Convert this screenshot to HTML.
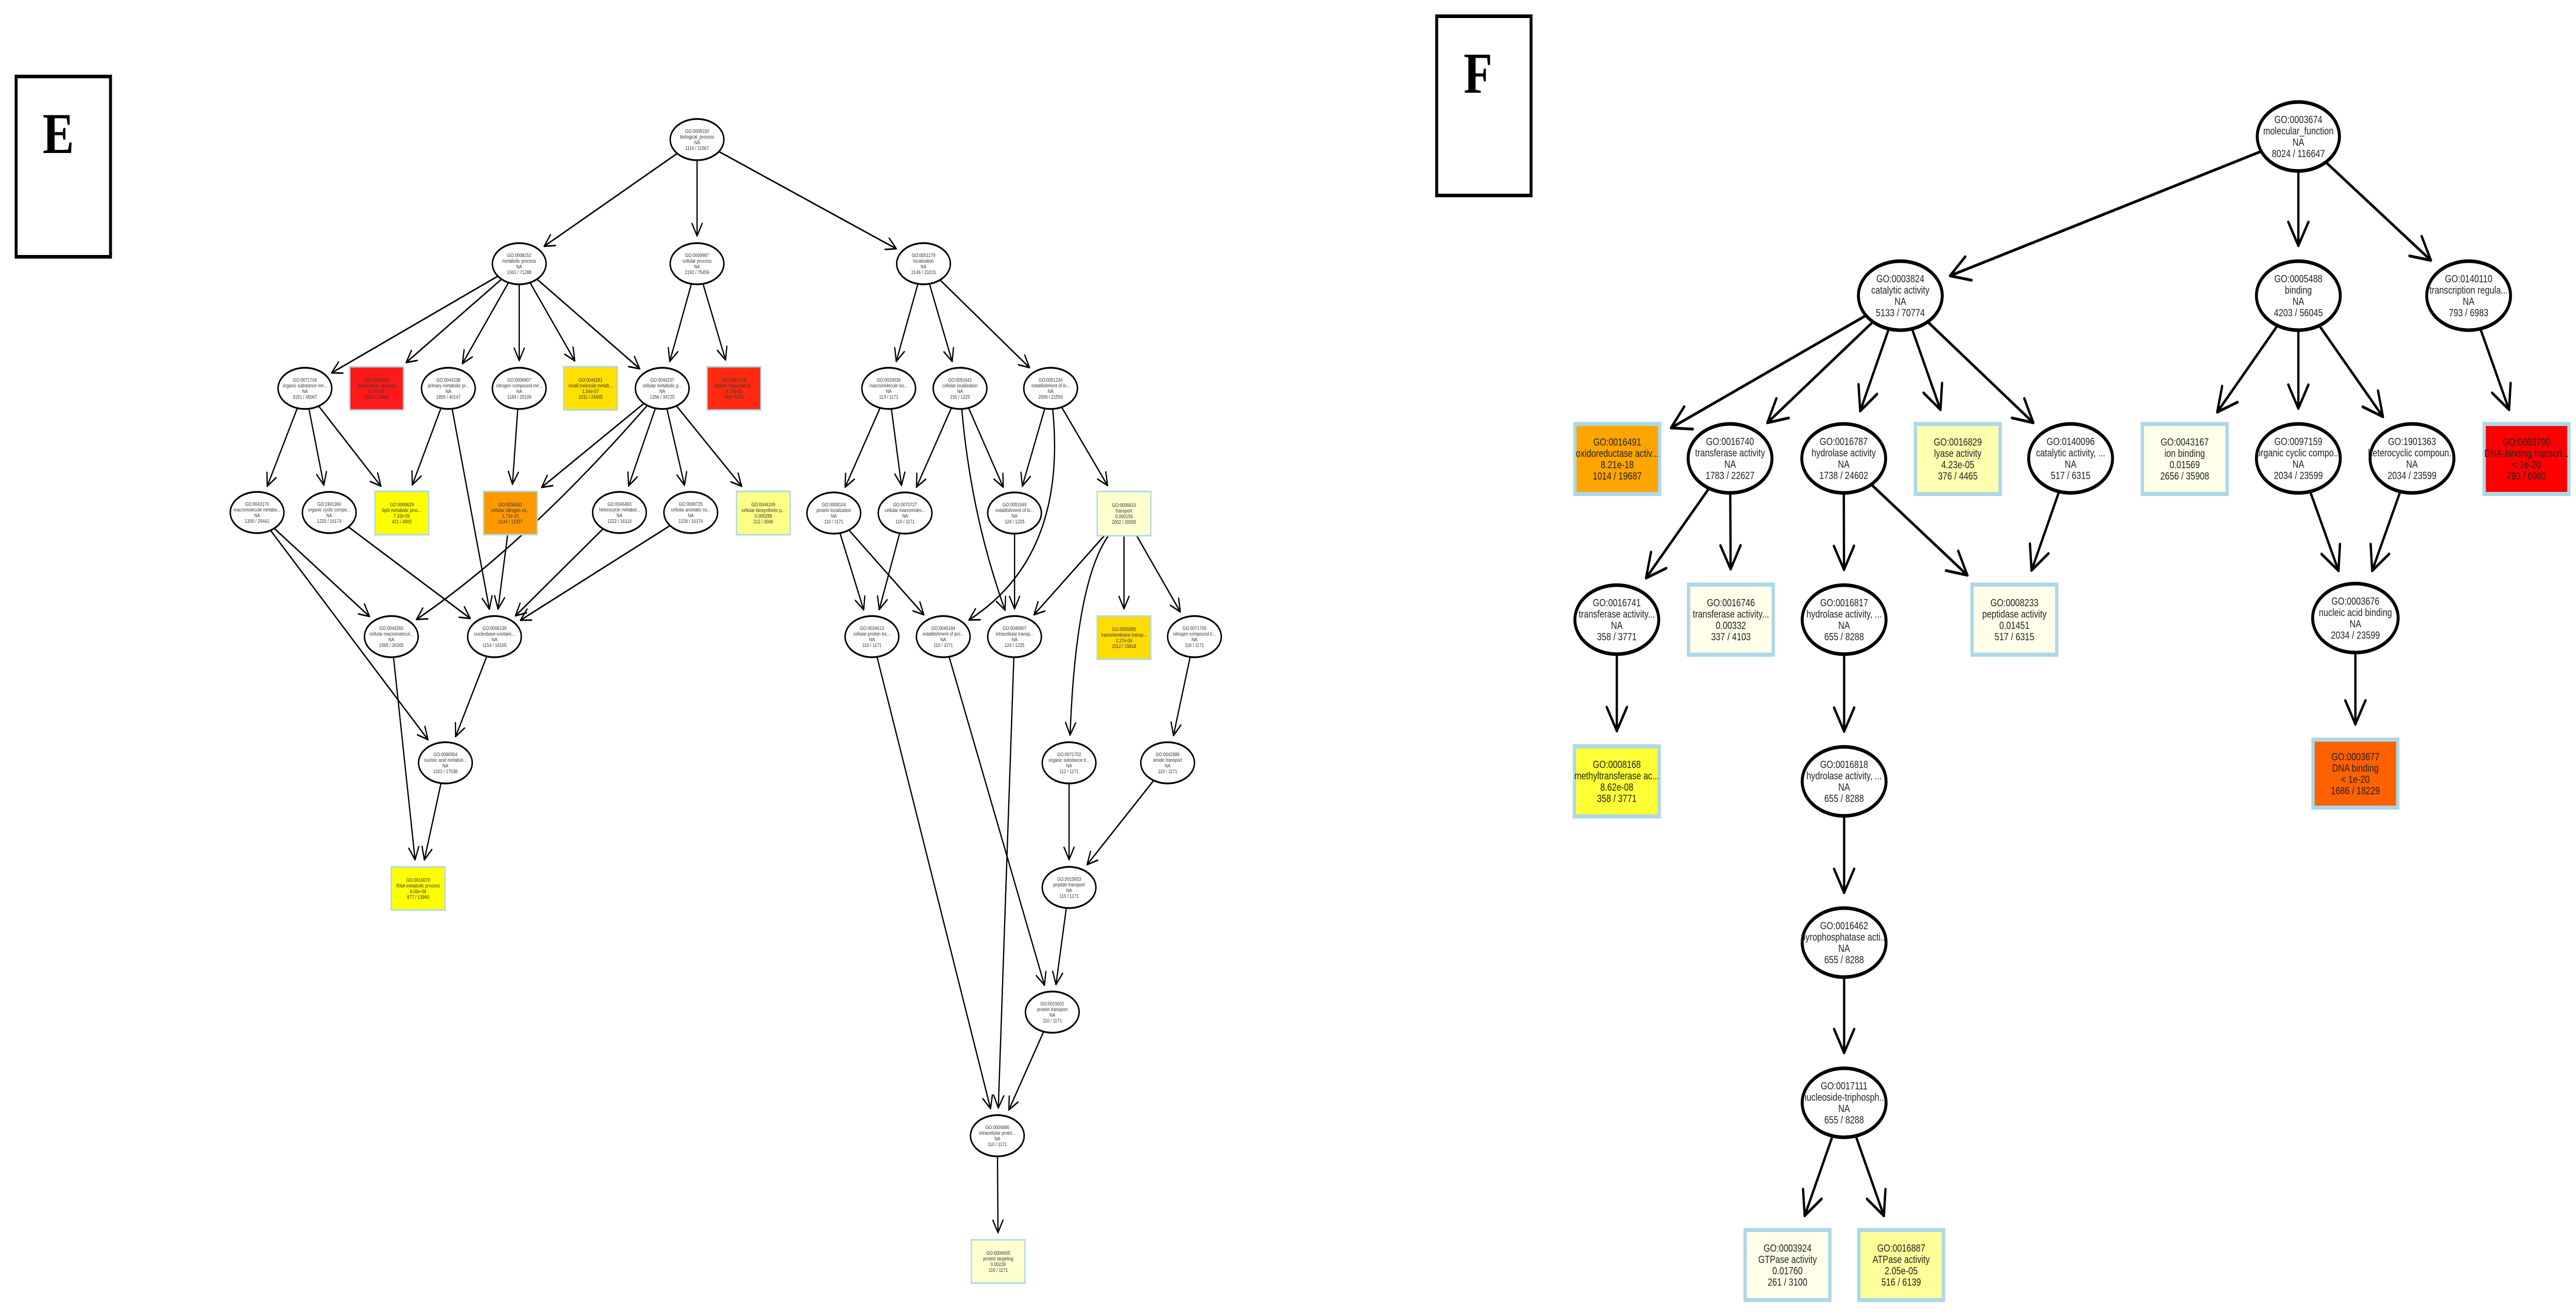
<!DOCTYPE html>
<html><head><meta charset="utf-8">
<style>
html,body{margin:0;padding:0;background:#fff;overflow:hidden;width:100vw;height:100vh;}
svg#s{display:block;width:100vw;height:100vh;}
.eF{fill:#fff;stroke:#000;stroke-width:7;}
.eE{fill:#fff;stroke:#000;stroke-width:3.5;}
.bF{stroke:#add8e6;stroke-width:8;}
.bE{stroke:#add8e6;stroke-width:3;}
.tF{font-family:"Liberation Sans Narrow","Liberation Sans",sans-serif;font-size:20px;text-anchor:middle;fill:#222;}
.tE{font-family:"Liberation Sans Narrow","Liberation Sans",sans-serif;font-size:10px;text-anchor:middle;fill:#333;}
.lab{font-family:"Liberation Serif",serif;font-weight:bold;font-size:112px;text-anchor:middle;}
</style></head>
<body>
<svg id="s" viewBox="0 0 6142 2553" preserveAspectRatio="none" xmlns="http://www.w3.org/2000/svg">
<rect x="0" y="0" width="6142" height="2553" fill="#fff"/>
<rect x="38.5" y="148.5" width="225" height="350" fill="none" stroke="#000" stroke-width="7"/>
<text class="lab" x="139" y="297">E</text>
<rect x="3425.5" y="31.5" width="225" height="348" fill="none" stroke="#000" stroke-width="7"/>
<text class="lab" x="3524" y="180">F</text>
<g id="edges" fill="none" stroke="#000" stroke-linecap="round" stroke-linejoin="round"></g>
<g id="nodes">
<g id="r" transform="translate(1662,271)"><ellipse class="eE" rx="64" ry="40"/><text class="tE"><tspan x="0" y="-13">GO:0008150</tspan><tspan x="0" y="-2">biological_process</tspan><tspan x="0" y="9">NA</tspan><tspan x="0" y="20">1114 / 11567</tspan></text></g>
<g id="m" transform="translate(1238,512)"><ellipse class="eE" rx="64" ry="40"/><text class="tE"><tspan x="0" y="-13">GO:0008152</tspan><tspan x="0" y="-2">metabolic process</tspan><tspan x="0" y="9">NA</tspan><tspan x="0" y="20">1041 / 71288</tspan></text></g>
<g id="c" transform="translate(1662,512)"><ellipse class="eE" rx="64" ry="40"/><text class="tE"><tspan x="0" y="-13">GO:0009987</tspan><tspan x="0" y="-2">cellular process</tspan><tspan x="0" y="9">NA</tspan><tspan x="0" y="20">2192 / 75459</tspan></text></g>
<g id="l" transform="translate(2202,512)"><ellipse class="eE" rx="64" ry="40"/><text class="tE"><tspan x="0" y="-13">GO:0051179</tspan><tspan x="0" y="-2">localization</tspan><tspan x="0" y="9">NA</tspan><tspan x="0" y="20">2146 / 23215</tspan></text></g>
<g id="e1" transform="translate(727,754)"><ellipse class="eE" rx="64" ry="40"/><text class="tE"><tspan x="0" y="-13">GO:0071704</tspan><tspan x="0" y="-2">organic substance me...</tspan><tspan x="0" y="9">NA</tspan><tspan x="0" y="20">3151 / 45067</tspan></text></g>
<g id="b1" transform="translate(898,754)"><rect class="bE" x="-64" y="-42" width="128" height="84" style="fill:#ff1a1a"/><text class="tE"><tspan x="0" y="-13">GO:0009058</tspan><tspan x="0" y="-2">biosynthetic process</tspan><tspan x="0" y="9">4.77e-05</tspan><tspan x="0" y="20">1913 / 10485</tspan></text></g>
<g id="e2" transform="translate(1069,754)"><ellipse class="eE" rx="64" ry="40"/><text class="tE"><tspan x="0" y="-13">GO:0044238</tspan><tspan x="0" y="-2">primary metabolic pr...</tspan><tspan x="0" y="9">NA</tspan><tspan x="0" y="20">1855 / 40147</tspan></text></g>
<g id="e3" transform="translate(1238,754)"><ellipse class="eE" rx="64" ry="40"/><text class="tE"><tspan x="0" y="-13">GO:0006807</tspan><tspan x="0" y="-2">nitrogen compound me...</tspan><tspan x="0" y="9">NA</tspan><tspan x="0" y="20">1184 / 25109</tspan></text></g>
<g id="b2" transform="translate(1408,754)"><rect class="bE" x="-64" y="-42" width="128" height="84" style="fill:#ffe000"/><text class="tE"><tspan x="0" y="-13">GO:0044281</tspan><tspan x="0" y="-2">small molecule metab...</tspan><tspan x="0" y="9">1.54e-07</tspan><tspan x="0" y="20">1011 / 24665</tspan></text></g>
<g id="e4" transform="translate(1579,754)"><ellipse class="eE" rx="64" ry="40"/><text class="tE"><tspan x="0" y="-13">GO:0044237</tspan><tspan x="0" y="-2">cellular metabolic p...</tspan><tspan x="0" y="9">NA</tspan><tspan x="0" y="20">1356 / 34725</tspan></text></g>
<g id="b3" transform="translate(1750,754)"><rect class="bE" x="-64" y="-42" width="128" height="84" style="fill:#ff2a10"/><text class="tE"><tspan x="0" y="-13">GO:0051716</tspan><tspan x="0" y="-2">cellular response to...</tspan><tspan x="0" y="9">4.77e-05</tspan><tspan x="0" y="20">564 / 5741</tspan></text></g>
<g id="e5" transform="translate(613,995)"><ellipse class="eE" rx="64" ry="40"/><text class="tE"><tspan x="0" y="-13">GO:0043170</tspan><tspan x="0" y="-2">macromolecule metabo...</tspan><tspan x="0" y="9">NA</tspan><tspan x="0" y="20">1305 / 29441</tspan></text></g>
<g id="e6" transform="translate(785,995)"><ellipse class="eE" rx="64" ry="40"/><text class="tE"><tspan x="0" y="-13">GO:1901360</tspan><tspan x="0" y="-2">organic cyclic compo...</tspan><tspan x="0" y="9">NA</tspan><tspan x="0" y="20">1225 / 16174</tspan></text></g>
<g id="b4" transform="translate(958,996)"><rect class="bE" x="-64" y="-42" width="128" height="84" style="fill:#ffff00"/><text class="tE"><tspan x="0" y="-13">GO:0006629</tspan><tspan x="0" y="-2">lipid metabolic proc...</tspan><tspan x="0" y="9">7.33e-06</tspan><tspan x="0" y="20">421 / 4005</tspan></text></g>
<g id="b5" transform="translate(1217,996)"><rect class="bE" x="-64" y="-42" width="128" height="84" style="fill:#ff9900"/><text class="tE"><tspan x="0" y="-13">GO:0034641</tspan><tspan x="0" y="-2">cellular nitrogen co...</tspan><tspan x="0" y="9">1.71e-15</tspan><tspan x="0" y="20">2144 / 12337</tspan></text></g>
<g id="e7" transform="translate(1477,995)"><ellipse class="eE" rx="64" ry="40"/><text class="tE"><tspan x="0" y="-13">GO:0046483</tspan><tspan x="0" y="-2">heterocycle metabol...</tspan><tspan x="0" y="9">NA</tspan><tspan x="0" y="20">1222 / 16114</tspan></text></g>
<g id="e8" transform="translate(1647,995)"><ellipse class="eE" rx="64" ry="40"/><text class="tE"><tspan x="0" y="-13">GO:0006725</tspan><tspan x="0" y="-2">cellular aromatic co...</tspan><tspan x="0" y="9">NA</tspan><tspan x="0" y="20">1226 / 16174</tspan></text></g>
<g id="b6" transform="translate(1820,996)"><rect class="bE" x="-64" y="-42" width="128" height="84" style="fill:#ffff88"/><text class="tE"><tspan x="0" y="-13">GO:0044249</tspan><tspan x="0" y="-2">cellular biosynthetic p...</tspan><tspan x="0" y="9">0.000288</tspan><tspan x="0" y="20">212 / 3046</tspan></text></g>
<g id="e9" transform="translate(933,1236)"><ellipse class="eE" rx="64" ry="40"/><text class="tE"><tspan x="0" y="-13">GO:0044260</tspan><tspan x="0" y="-2">cellular macromolecul...</tspan><tspan x="0" y="9">NA</tspan><tspan x="0" y="20">1565 / 26305</tspan></text></g>
<g id="e10" transform="translate(1179,1236)"><ellipse class="eE" rx="64" ry="40"/><text class="tE"><tspan x="0" y="-13">GO:0006139</tspan><tspan x="0" y="-2">nucleobase-containi...</tspan><tspan x="0" y="9">NA</tspan><tspan x="0" y="20">1154 / 16105</tspan></text></g>
<g id="e11" transform="translate(1062,1481)"><ellipse class="eE" rx="64" ry="40"/><text class="tE"><tspan x="0" y="-13">GO:0090304</tspan><tspan x="0" y="-2">nucleic acid metaboli...</tspan><tspan x="0" y="9">NA</tspan><tspan x="0" y="20">1022 / 17038</tspan></text></g>
<g id="b7" transform="translate(997,1725)"><rect class="bE" x="-64" y="-42" width="128" height="84" style="fill:#ffff00"/><text class="tE"><tspan x="0" y="-13">GO:0016070</tspan><tspan x="0" y="-2">RNA metabolic process</tspan><tspan x="0" y="9">8.05e-06</tspan><tspan x="0" y="20">877 / 13990</tspan></text></g>
<g id="e12" transform="translate(2119,754)"><ellipse class="eE" rx="64" ry="40"/><text class="tE"><tspan x="0" y="-13">GO:0033036</tspan><tspan x="0" y="-2">macromolecule loc...</tspan><tspan x="0" y="9">NA</tspan><tspan x="0" y="20">113 / 1171</tspan></text></g>
<g id="e13" transform="translate(2289,754)"><ellipse class="eE" rx="64" ry="40"/><text class="tE"><tspan x="0" y="-13">GO:0051641</tspan><tspan x="0" y="-2">cellular localization</tspan><tspan x="0" y="9">NA</tspan><tspan x="0" y="20">150 / 1225</tspan></text></g>
<g id="e14" transform="translate(2505,754)"><ellipse class="eE" rx="64" ry="40"/><text class="tE"><tspan x="0" y="-13">GO:0051234</tspan><tspan x="0" y="-2">establishment of lo...</tspan><tspan x="0" y="9">NA</tspan><tspan x="0" y="20">2006 / 21555</tspan></text></g>
<g id="e15" transform="translate(1988,996)"><ellipse class="eE" rx="64" ry="40"/><text class="tE"><tspan x="0" y="-13">GO:0008104</tspan><tspan x="0" y="-2">protein localization</tspan><tspan x="0" y="9">NA</tspan><tspan x="0" y="20">110 / 1171</tspan></text></g>
<g id="e16" transform="translate(2158,996)"><ellipse class="eE" rx="64" ry="40"/><text class="tE"><tspan x="0" y="-13">GO:0070727</tspan><tspan x="0" y="-2">cellular macromolec...</tspan><tspan x="0" y="9">NA</tspan><tspan x="0" y="20">110 / 1171</tspan></text></g>
<g id="e17" transform="translate(2419,996)"><ellipse class="eE" rx="64" ry="40"/><text class="tE"><tspan x="0" y="-13">GO:0051649</tspan><tspan x="0" y="-2">establishment of lo...</tspan><tspan x="0" y="9">NA</tspan><tspan x="0" y="20">124 / 1225</tspan></text></g>
<g id="b8" transform="translate(2680,997)"><rect class="bE" x="-64" y="-43" width="128" height="86" style="fill:#ffffd0"/><text class="tE"><tspan x="0" y="-13">GO:0006810</tspan><tspan x="0" y="-2">transport</tspan><tspan x="0" y="9">0.000159</tspan><tspan x="0" y="20">2002 / 20555</tspan></text></g>
<g id="e18" transform="translate(2079,1236)"><ellipse class="eE" rx="64" ry="40"/><text class="tE"><tspan x="0" y="-13">GO:0034613</tspan><tspan x="0" y="-2">cellular protein loc...</tspan><tspan x="0" y="9">NA</tspan><tspan x="0" y="20">110 / 1171</tspan></text></g>
<g id="e19" transform="translate(2249,1236)"><ellipse class="eE" rx="64" ry="40"/><text class="tE"><tspan x="0" y="-13">GO:0045184</tspan><tspan x="0" y="-2">establishment of pro...</tspan><tspan x="0" y="9">NA</tspan><tspan x="0" y="20">110 / 1171</tspan></text></g>
<g id="e20" transform="translate(2419,1236)"><ellipse class="eE" rx="64" ry="40"/><text class="tE"><tspan x="0" y="-13">GO:0046907</tspan><tspan x="0" y="-2">intracellular transp...</tspan><tspan x="0" y="9">NA</tspan><tspan x="0" y="20">124 / 1225</tspan></text></g>
<g id="b9" transform="translate(2680,1238)"><rect class="bE" x="-64" y="-42" width="128" height="84" style="fill:#ffdd00"/><text class="tE"><tspan x="0" y="-13">GO:0055085</tspan><tspan x="0" y="-2">transmembrane transp...</tspan><tspan x="0" y="9">2.27e-06</tspan><tspan x="0" y="20">1512 / 15818</tspan></text></g>
<g id="e21" transform="translate(2848,1236)"><ellipse class="eE" rx="64" ry="40"/><text class="tE"><tspan x="0" y="-13">GO:0071705</tspan><tspan x="0" y="-2">nitrogen compound tr...</tspan><tspan x="0" y="9">NA</tspan><tspan x="0" y="20">118 / 1171</tspan></text></g>
<g id="e22" transform="translate(2549,1481)"><ellipse class="eE" rx="64" ry="40"/><text class="tE"><tspan x="0" y="-13">GO:0071702</tspan><tspan x="0" y="-2">organic substance tr...</tspan><tspan x="0" y="9">NA</tspan><tspan x="0" y="20">112 / 1171</tspan></text></g>
<g id="e23" transform="translate(2784,1481)"><ellipse class="eE" rx="64" ry="40"/><text class="tE"><tspan x="0" y="-13">GO:0042886</tspan><tspan x="0" y="-2">amide transport</tspan><tspan x="0" y="9">NA</tspan><tspan x="0" y="20">110 / 1171</tspan></text></g>
<g id="e24" transform="translate(2549,1723)"><ellipse class="eE" rx="64" ry="40"/><text class="tE"><tspan x="0" y="-13">GO:0015833</tspan><tspan x="0" y="-2">peptide transport</tspan><tspan x="0" y="9">NA</tspan><tspan x="0" y="20">110 / 1171</tspan></text></g>
<g id="e25" transform="translate(2509,1965)"><ellipse class="eE" rx="64" ry="40"/><text class="tE"><tspan x="0" y="-13">GO:0015031</tspan><tspan x="0" y="-2">protein transport</tspan><tspan x="0" y="9">NA</tspan><tspan x="0" y="20">110 / 1171</tspan></text></g>
<g id="e26" transform="translate(2378,2205)"><ellipse class="eE" rx="64" ry="40"/><text class="tE"><tspan x="0" y="-13">GO:0006886</tspan><tspan x="0" y="-2">intracellular protei...</tspan><tspan x="0" y="9">NA</tspan><tspan x="0" y="20">110 / 1171</tspan></text></g>
<g id="b10" transform="translate(2380,2449)"><rect class="bE" x="-64" y="-42" width="128" height="84" style="fill:#ffffd0"/><text class="tE"><tspan x="0" y="-13">GO:0006605</tspan><tspan x="0" y="-2">protein targeting</tspan><tspan x="0" y="9">0.00228</tspan><tspan x="0" y="20">110 / 1171</tspan></text></g>
<g id="R" transform="translate(5480,265)"><ellipse class="eF" rx="98" ry="67"/><text class="tF"><tspan x="0" y="-26">GO:0003674</tspan><tspan x="0" y="-4">molecular_function</tspan><tspan x="0" y="18">NA</tspan><tspan x="0" y="40">8024 / 116647</tspan></text></g>
<g id="A" transform="translate(4531,574)"><ellipse class="eF" rx="100" ry="67"/><text class="tF"><tspan x="0" y="-26">GO:0003824</tspan><tspan x="0" y="-4">catalytic activity</tspan><tspan x="0" y="18">NA</tspan><tspan x="0" y="40">5133 / 70774</tspan></text></g>
<g id="B" transform="translate(5480,574)"><ellipse class="eF" rx="100" ry="67"/><text class="tF"><tspan x="0" y="-26">GO:0005488</tspan><tspan x="0" y="-4">binding</tspan><tspan x="0" y="18">NA</tspan><tspan x="0" y="40">4203 / 56045</tspan></text></g>
<g id="C" transform="translate(5886,574)"><ellipse class="eF" rx="100" ry="67"/><text class="tF"><tspan x="0" y="-26">GO:0140110</tspan><tspan x="0" y="-4">transcription regula...</tspan><tspan x="0" y="18">NA</tspan><tspan x="0" y="40">793 / 6983</tspan></text></g>
<g id="f1" transform="translate(3856,891)"><rect class="bF" x="-101" y="-68" width="202" height="136" style="fill:#ffa500"/><text class="tF"><tspan x="0" y="-26">GO:0016491</tspan><tspan x="0" y="-4">oxidoreductase activ...</tspan><tspan x="0" y="18">8.21e-18</tspan><tspan x="0" y="40">1014 / 19687</tspan></text></g>
<g id="f2" transform="translate(4125,890)"><ellipse class="eF" rx="100" ry="67"/><text class="tF"><tspan x="0" y="-26">GO:0016740</tspan><tspan x="0" y="-4">transferase activity</tspan><tspan x="0" y="18">NA</tspan><tspan x="0" y="40">1783 / 22627</tspan></text></g>
<g id="f3" transform="translate(4396,890)"><ellipse class="eF" rx="100" ry="67"/><text class="tF"><tspan x="0" y="-26">GO:0016787</tspan><tspan x="0" y="-4">hydrolase activity</tspan><tspan x="0" y="18">NA</tspan><tspan x="0" y="40">1738 / 24602</tspan></text></g>
<g id="f4" transform="translate(4668,891)"><rect class="bF" x="-101" y="-68" width="202" height="136" style="fill:#ffffb0"/><text class="tF"><tspan x="0" y="-26">GO:0016829</tspan><tspan x="0" y="-4">lyase activity</tspan><tspan x="0" y="18">4.23e-05</tspan><tspan x="0" y="40">376 / 4465</tspan></text></g>
<g id="f5" transform="translate(4937,890)"><ellipse class="eF" rx="100" ry="67"/><text class="tF"><tspan x="0" y="-26">GO:0140096</tspan><tspan x="0" y="-4">catalytic activity, ...</tspan><tspan x="0" y="18">NA</tspan><tspan x="0" y="40">517 / 6315</tspan></text></g>
<g id="f6" transform="translate(5209,891)"><rect class="bF" x="-101" y="-68" width="202" height="136" style="fill:#ffffea"/><text class="tF"><tspan x="0" y="-26">GO:0043167</tspan><tspan x="0" y="-4">ion binding</tspan><tspan x="0" y="18">0.01569</tspan><tspan x="0" y="40">2656 / 35908</tspan></text></g>
<g id="f7" transform="translate(5480,890)"><ellipse class="eF" rx="100" ry="67"/><text class="tF"><tspan x="0" y="-26">GO:0097159</tspan><tspan x="0" y="-4">organic cyclic compo...</tspan><tspan x="0" y="18">NA</tspan><tspan x="0" y="40">2034 / 23599</tspan></text></g>
<g id="f8" transform="translate(5751,890)"><ellipse class="eF" rx="100" ry="67"/><text class="tF"><tspan x="0" y="-26">GO:1901363</tspan><tspan x="0" y="-4">heterocyclic compoun...</tspan><tspan x="0" y="18">NA</tspan><tspan x="0" y="40">2034 / 23599</tspan></text></g>
<g id="f9" transform="translate(6024,891)"><rect class="bF" x="-101" y="-68" width="202" height="136" style="fill:#ff0000"/><text class="tF"><tspan x="0" y="-26">GO:0003700</tspan><tspan x="0" y="-4">DNA-binding transcri...</tspan><tspan x="0" y="18">&lt; 1e-20</tspan><tspan x="0" y="40">793 / 6983</tspan></text></g>
<g id="g1" transform="translate(3855,1203)"><ellipse class="eF" rx="100" ry="67"/><text class="tF"><tspan x="0" y="-26">GO:0016741</tspan><tspan x="0" y="-4">transferase activity...</tspan><tspan x="0" y="18">NA</tspan><tspan x="0" y="40">358 / 3771</tspan></text></g>
<g id="g2" transform="translate(4127,1203)"><rect class="bF" x="-101" y="-68" width="202" height="136" style="fill:#ffffea"/><text class="tF"><tspan x="0" y="-26">GO:0016746</tspan><tspan x="0" y="-4">transferase activity...</tspan><tspan x="0" y="18">0.00332</tspan><tspan x="0" y="40">337 / 4103</tspan></text></g>
<g id="g3" transform="translate(4397,1203)"><ellipse class="eF" rx="100" ry="67"/><text class="tF"><tspan x="0" y="-26">GO:0016817</tspan><tspan x="0" y="-4">hydrolase activity, ...</tspan><tspan x="0" y="18">NA</tspan><tspan x="0" y="40">655 / 8288</tspan></text></g>
<g id="g4" transform="translate(4803,1203)"><rect class="bF" x="-101" y="-68" width="202" height="136" style="fill:#ffffea"/><text class="tF"><tspan x="0" y="-26">GO:0008233</tspan><tspan x="0" y="-4">peptidase activity</tspan><tspan x="0" y="18">0.01451</tspan><tspan x="0" y="40">517 / 6315</tspan></text></g>
<g id="g5" transform="translate(5616,1200)"><ellipse class="eF" rx="102" ry="67"/><text class="tF"><tspan x="0" y="-26">GO:0003676</tspan><tspan x="0" y="-4">nucleic acid binding</tspan><tspan x="0" y="18">NA</tspan><tspan x="0" y="40">2034 / 23599</tspan></text></g>
<g id="h1" transform="translate(3855,1517)"><rect class="bF" x="-101" y="-68" width="202" height="136" style="fill:#ffff33"/><text class="tF"><tspan x="0" y="-26">GO:0008168</tspan><tspan x="0" y="-4">methyltransferase ac...</tspan><tspan x="0" y="18">8.62e-08</tspan><tspan x="0" y="40">358 / 3771</tspan></text></g>
<g id="h2" transform="translate(4397,1517)"><ellipse class="eF" rx="100" ry="67"/><text class="tF"><tspan x="0" y="-26">GO:0016818</tspan><tspan x="0" y="-4">hydrolase activity, ...</tspan><tspan x="0" y="18">NA</tspan><tspan x="0" y="40">655 / 8288</tspan></text></g>
<g id="h3" transform="translate(5616,1502)"><rect class="bF" x="-101" y="-66" width="202" height="132" style="fill:#ff6000"/><text class="tF"><tspan x="0" y="-26">GO:0003677</tspan><tspan x="0" y="-4">DNA binding</tspan><tspan x="0" y="18">&lt; 1e-20</tspan><tspan x="0" y="40">1686 / 18229</tspan></text></g>
<g id="i1" transform="translate(4397,1830)"><ellipse class="eF" rx="100" ry="67"/><text class="tF"><tspan x="0" y="-26">GO:0016462</tspan><tspan x="0" y="-4">pyrophosphatase acti...</tspan><tspan x="0" y="18">NA</tspan><tspan x="0" y="40">655 / 8288</tspan></text></g>
<g id="j1" transform="translate(4397,2141)"><ellipse class="eF" rx="100" ry="67"/><text class="tF"><tspan x="0" y="-26">GO:0017111</tspan><tspan x="0" y="-4">nucleoside-triphosph...</tspan><tspan x="0" y="18">NA</tspan><tspan x="0" y="40">655 / 8288</tspan></text></g>
<g id="k1" transform="translate(4262,2456)"><rect class="bF" x="-101" y="-68" width="202" height="136" style="fill:#ffffea"/><text class="tF"><tspan x="0" y="-26">GO:0003924</tspan><tspan x="0" y="-4">GTPase activity</tspan><tspan x="0" y="18">0.01760</tspan><tspan x="0" y="40">261 / 3100</tspan></text></g>
<g id="k2" transform="translate(4533,2456)"><rect class="bF" x="-101" y="-68" width="202" height="136" style="fill:#ffff99"/><text class="tF"><tspan x="0" y="-26">GO:0016887</tspan><tspan x="0" y="-4">ATPase activity</tspan><tspan x="0" y="18">2.05e-05</tspan><tspan x="0" y="40">516 / 6139</tspan></text></g>
</g>
</svg>
<script>
(function(){
var NS="http://www.w3.org/2000/svg";
function geo(id){
  var g=document.getElementById(id);
  var m=g.transform.baseVal.consolidate().matrix;
  var s=g.firstElementChild, cls=s.getAttribute("class");
  var o={x:m.e,y:m.f,F:cls.indexOf("F")>=0};
  if(s.tagName=="ellipse"){o.t="e";o.rx=+s.getAttribute("rx");o.ry=+s.getAttribute("ry");}
  else{o.t="b";o.hw=+s.getAttribute("width")/2;o.hh=+s.getAttribute("height")/2;}
  return o;
}
function bnd(n,dx,dy){
  var L=Math.hypot(dx,dy);dx/=L;dy/=L;var t;
  if(n.t=="e"){t=1/Math.sqrt((dx/n.rx)*(dx/n.rx)+(dy/n.ry)*(dy/n.ry));}
  else{t=Math.min(Math.abs(dx)>1e-9?n.hw/Math.abs(dx):1e9,Math.abs(dy)>1e-9?n.hh/Math.abs(dy):1e9);}
  return [n.x+dx*t,n.y+dy*t];
}
var E=[
["r","m"],["r","c"],["r","l"],
["m","e1"],["m","b1"],["m","e2"],["m","e3"],["m","b2"],["m","e4"],
["c","e4"],["c","b3"],
["e1","e5"],["e1","e6"],["e1","b4"],
["e2","b4"],["e2","e10"],
["e3","b5"],
["e4","b5"],["e4","e9",1250,1060],["e4","e7"],["e4","e8"],["e4","b6"],
["e5","e9"],["e5","e11"],
["e6","e10"],["b5","e10"],["e7","e10"],["e8","e10"],
["e9","b7"],["e10","e11"],["e11","b7"],
["l","e12"],["l","e13"],["l","e14"],
["e12","e15"],["e12","e16"],
["e13","e16"],["e13","e17"],["e13","e20",2315,1000],
["e14","e17"],["e14","e19",2545,1080],["e14","b8"],
["e15","e18"],["e15","e19"],["e16","e18"],
["e17","e20"],
["b8","e20"],["b8","e22",2565,1130],["b8","b9"],["b8","e21"],
["e21","e23"],
["e18","e26"],["e19","e25"],["e20","e26"],
["e22","e24"],["e23","e24"],["e24","e25"],["e25","e26"],["e26","b10"],
["R","A"],["R","B"],["R","C"],
["A","f1"],["A","f2"],["A","f3"],["A","f4"],["A","f5"],
["B","f6"],["B","f7"],["B","f8"],["C","f9"],
["f2","g1"],["f2","g2"],["f3","g3"],["f3","g4"],["f5","g4"],
["f7","g5"],["f8","g5"],["g5","h3"],
["g1","h1"],["g3","h2"],["h2","i1"],["i1","j1"],["j1","k1"],["j1","k2"]
];
var eg=document.getElementById("edges");
E.forEach(function(e){
  var a=geo(e[0]),b=geo(e[1]);
  var F=a.F;
  var sw=F?5.5:3, al=F?46:24, ah=F?24:12, gap=F?30:14;
  var cx=e.length>2?e[2]:null, cy=e.length>2?e[3]:null;
  var p0=bnd(a,(cx!==null?cx:b.x)-a.x,(cy!==null?cy:b.y)-a.y);
  var fx=cx!==null?cx:a.x, fy=cy!==null?cy:a.y;
  var pb=bnd(b,fx-b.x,fy-b.y);
  var dx=pb[0]-fx,dy=pb[1]-fy,L=Math.hypot(dx,dy);dx/=L;dy/=L;
  var tip=[pb[0]-dx*gap,pb[1]-dy*gap];
  var d;
  if(cx!==null){d="M"+p0[0]+","+p0[1]+" Q"+cx+","+cy+" "+tip[0]+","+tip[1];}
  else{d="M"+p0[0]+","+p0[1]+" L"+tip[0]+","+tip[1];}
  var p=document.createElementNS(NS,"path");p.setAttribute("d",d);p.setAttribute("stroke-width",sw);eg.appendChild(p);
  var bx=tip[0]-dx*al,by=tip[1]-dy*al,nx=-dy,ny=dx;
  var h=document.createElementNS(NS,"path");
  h.setAttribute("d","M"+(bx+nx*ah)+","+(by+ny*ah)+" L"+tip[0]+","+tip[1]+" L"+(bx-nx*ah)+","+(by-ny*ah));
  h.setAttribute("stroke-width",sw);eg.appendChild(h);
});
})();
</script>
</body></html>
